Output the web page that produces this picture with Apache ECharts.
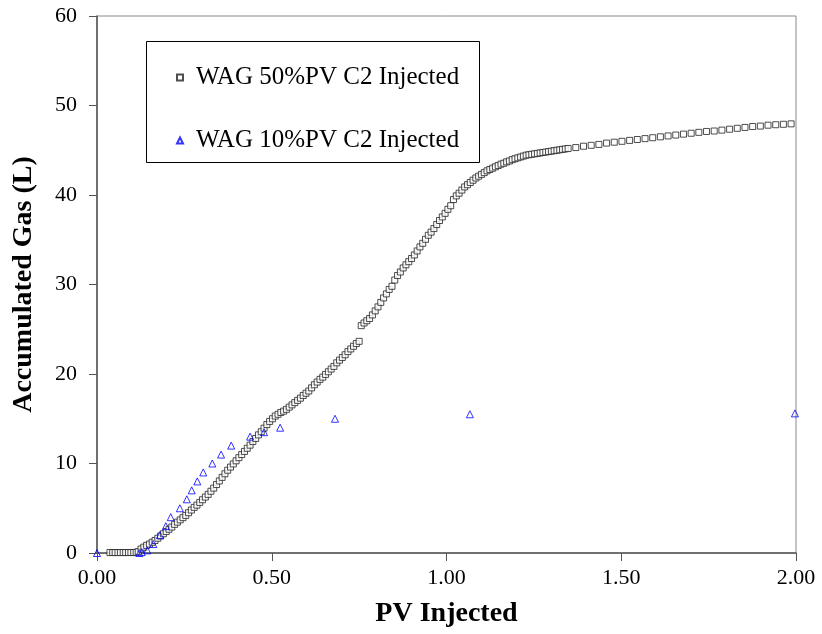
<!DOCTYPE html>
<html>
<head>
<meta charset="utf-8">
<script src="https://cdn.jsdelivr.net/npm/echarts@6/dist/echarts.min.js"></script>
<style>html,body{margin:0;padding:0;background:#fff}#c{width:822px;height:634px}</style>
</head>
<body>
<div id="c"></div>
<script>
// WAG 50%PV C2 Injected
const x50 = [0.037,0.045,0.052,0.060,0.067,0.075,0.082,0.090,0.097,0.105,0.112,
0.118,0.126,0.134,0.142,0.150,0.158,0.166,0.174,0.182,0.190,0.198,0.206,0.214,0.222,0.230,0.238,0.246,0.254,0.262,0.270,
0.278,0.286,0.294,0.302,0.310,0.318,0.326,0.334,0.342,0.350,0.358,0.366,0.374,0.382,0.390,0.398,0.406,0.414,0.422,0.430,
0.438,0.446,0.454,0.462,0.470,0.478,0.486,0.494,0.502,0.510,0.518,0.526,0.534,0.542,0.550,0.558,0.566,0.574,0.582,0.590,
0.598,0.606,0.614,0.622,0.630,0.638,0.646,0.654,0.662,0.670,0.678,0.686,0.694,0.702,0.710,0.718,0.726,0.734,0.742,0.750,
0.756,0.764,0.772,0.780,0.788,0.796,0.804,0.812,0.820,0.828,0.836,0.844,0.852,0.860,0.868,0.876,0.884,0.892,0.900,0.908,
0.916,0.924,0.932,0.940,0.948,0.956,0.964,0.972,0.980,0.988,0.996,1.004,1.012,1.020,1.028,1.036,1.044,1.052,1.060,1.068,
1.076,1.084,1.092,1.100,1.108,1.116,1.124,1.132,1.140,1.148,1.156,1.164,1.172,1.180,1.188,1.196,1.204,1.212,1.220,1.228,
1.236,1.244,1.252,1.260,1.268,1.276,1.284,1.292,1.300,1.308,1.316,1.324,1.332,1.340,1.348,
1.370,1.392,1.414,1.436,1.458,1.480,1.502,1.524,1.546,1.568,1.590,1.612,1.634,1.656,1.678,1.700,1.722,1.744,1.766,1.788,
1.810,1.832,1.854,1.876,1.898,1.920,1.942,1.964,1.986];
const y50 = [0.05,0.05,0.05,0.05,0.05,0.05,0.05,0.05,0.05,0.05,0.08,
0.15,0.45,0.65,0.85,1.0,1.2,1.4,1.65,1.9,2.15,2.4,2.65,2.9,3.2,3.45,3.7,3.95,4.2,4.5,4.8,
5.1,5.35,5.65,5.95,6.25,6.55,6.9,7.25,7.65,8.05,8.45,8.85,9.25,9.6,9.95,10.3,10.65,11.0,11.35,11.7,
12.05,12.45,12.8,13.2,13.55,13.95,14.35,14.7,15.0,15.3,15.5,15.7,15.85,16.05,16.3,16.55,16.8,17.05,17.3,17.6,
17.85,18.1,18.45,18.8,19.1,19.4,19.65,19.95,20.25,20.55,20.85,21.25,21.55,21.85,22.15,22.5,22.8,23.1,23.4,23.65,
25.4,25.7,25.95,26.2,26.6,27.05,27.5,28.0,28.5,28.95,29.45,29.8,30.5,31.0,31.4,31.85,32.2,32.55,32.9,33.3,
33.75,34.2,34.6,35.05,35.5,35.85,36.25,36.7,37.15,37.55,37.95,38.4,38.8,39.5,39.9,40.2,40.55,40.9,41.15,41.4,
41.65,41.9,42.1,42.3,42.5,42.7,42.85,43.0,43.15,43.3,43.45,43.55,43.7,43.8,43.95,44.05,44.15,44.25,44.35,44.45,
44.5,44.55,44.6,44.65,44.7,44.75,44.8,44.85,44.9,44.95,45.0,45.05,45.1,45.15,45.2,
45.3,45.45,45.55,45.65,45.8,45.9,46.0,46.1,46.2,46.3,46.4,46.5,46.6,46.7,46.8,46.9,47.0,47.1,47.15,47.25,
47.35,47.45,47.55,47.65,47.7,47.8,47.85,47.9,47.95];
// WAG 10%PV C2 Injected
const x10 = [0.000,0.121,0.128,0.144,0.161,0.180,0.197,0.211,0.237,0.257,0.271,0.287,0.304,0.330,0.355,0.384,0.438,0.478,0.524,0.681,1.067,1.997];
const y10 = [0,0,0.1,0.3,1.0,2.0,3.0,4.0,5.0,6.0,7.0,8.0,9.0,10.0,11.0,12.0,13.0,13.5,14.0,15.0,15.5,15.6];
const xTicks = [0, 0.5, 1, 1.5, 2];
const yTicks = [0, 10, 20, 30, 40, 50, 60];
const seriesNames = ['WAG 50%PV C2 Injected', 'WAG 10%PV C2 Injected'];

const d50 = x50.map((x, i) => [x, y50[i]]);
const d10 = x10.map((x, i) => [x, y10[i]]);
const FONT = '"Liberation Serif", "Times New Roman", serif';

const chart = echarts.init(document.getElementById('c'), null, {renderer: 'canvas'});
chart.setOption({
  animation: false,
  backgroundColor: '#fff',
  grid: {left: 97, right: 26, top: 16, bottom: 81, show: true, borderColor: '#888', borderWidth: 1, backgroundColor: 'transparent'},
  xAxis: {
    type: 'value', min: xTicks[0], max: xTicks[xTicks.length - 1], interval: 0.5,
    name: 'PV Injected', nameLocation: 'middle', nameGap: 47,
    nameTextStyle: {fontFamily: FONT, fontWeight: 'bold', fontSize: 28, color: '#000'},
    axisLine: {show: true, onZero: false, lineStyle: {color: '#555', width: 1.5}},
    axisTick: {show: true, length: 8, lineStyle: {color: '#555'}},
    axisLabel: {fontFamily: FONT, fontSize: 22, color: '#000', margin: 14, formatter: v => v.toFixed(2)},
    splitLine: {show: false}
  },
  yAxis: {
    type: 'value', min: yTicks[0], max: yTicks[yTicks.length - 1], interval: 10,
    name: 'Accumulated Gas (L)', nameLocation: 'middle', nameGap: 59,
    nameTextStyle: {fontFamily: FONT, fontWeight: 'bold', fontSize: 28, color: '#000'},
    axisLine: {show: true, onZero: false, lineStyle: {color: '#555', width: 1.5}},
    axisTick: {show: true, length: 8, lineStyle: {color: '#555'}},
    axisLabel: {fontFamily: FONT, fontSize: 22, color: '#000', margin: 20},
    splitLine: {show: false}
  },
  graphic: [{
    type: 'rect', left: 146, top: 41, z: 50,
    shape: {width: 333, height: 121},
    style: {fill: '#fff', stroke: '#000', lineWidth: 1}
  }],
  legend: {
    orient: 'vertical', left: 176, top: 65, z: 60, padding: 0,
    itemWidth: 6, itemHeight: 6, itemGap: 38,
    textStyle: {fontFamily: FONT, fontSize: 25, color: '#000', lineHeight: 24, padding: [0, 0, 0, 8]},
    data: seriesNames
  },
  series: [
    {
      name: seriesNames[0], type: 'scatter', data: d50,
      symbol: 'rect', symbolSize: 6,
      itemStyle: {color: '#fff', borderColor: '#222', borderWidth: 1}
    },
    {
      name: seriesNames[1], type: 'scatter', data: d10,
      symbol: 'triangle', symbolSize: 7,
      itemStyle: {color: 'rgba(255,255,255,0)', borderColor: '#0000ff', borderWidth: 1}
    }
  ]
});
</script>
</body>
</html>
